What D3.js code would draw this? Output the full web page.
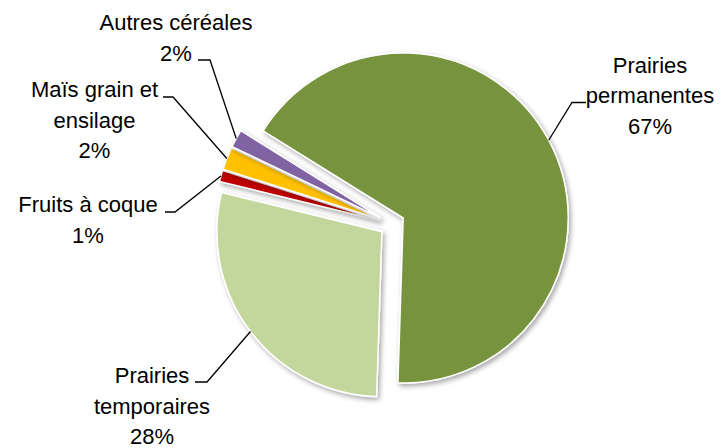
<!DOCTYPE html>
<html>
<head>
<meta charset="utf-8">
<script src="https://cdn.jsdelivr.net/npm/d3@7"></script>
<style>
  body { margin: 0; background: #fff; }
  text { font-family: "Liberation Sans", Arial, sans-serif; font-size: 22px; fill: #000; }
</style>
</head>
<body>
<div id="chart"></div>
<script>
const width = 728;
const height = 448;

// data (share of area, %)
const categories = ["Prairies permanentes", "Prairies temporaires", "Fruits à coque", "Maïs grain et ensilage", "Autres céréales"];
const values = [66.65, 28.3, 1.1, 2.2, 1.75];
const colors = ["#77933C", "#C3D69B", "#C00000", "#FFC000", "#8064A2"];
const labelLines = [["Prairies", "permanentes"], ["Prairies", "temporaires"], ["Fruits à coque"], ["Maïs grain et", "ensilage"], ["Autres céréales"]];

// label layout: text centre x, first baseline y, leader start (x,y), elbow x
const labelPos = [
    {x: 650, y: 72.5, lx: 586, ly: 102.5, ex: 572},
    {x: 152, y: 383, lx: 195, ly: 382, ex: 207},
    {x: 88, y: 212, lx: 165, ly: 212, ex: 175},
    {x: 94.5, y: 97, lx: 163, ly: 97, ex: 173},
    {x: 176, y: 30, lx: 198, ly: 60, ex: 210}
];

const cx = 392, cy = 224;
const radius = 165;
const explode = 12.7;
const lineH = 30.5;
const startDeg = 301.9;

const total = d3.sum(values);
const data = categories.map((c, i) => ({name: c, value: values[i], color: colors[i], lines: labelLines[i], pos: labelPos[i]}));

const pie = d3.pie()
    .value(d => d.value)
    .sort(null)
    .startAngle(startDeg * Math.PI / 180)
    .endAngle(startDeg * Math.PI / 180 + 2 * Math.PI);

const arc = d3.arc().innerRadius(0).outerRadius(radius);

const svg = d3.select('#chart').append('svg')
    .attr('width', width)
    .attr('height', height);

const defs = svg.append('defs');
const f = defs.append('filter').attr('id', 'shadow')
    .attr('x', '-20%').attr('y', '-20%').attr('width', '140%').attr('height', '140%');
f.append('feDropShadow')
    .attr('dx', 2).attr('dy', 2.5)
    .attr('stdDeviation', 2.5)
    .attr('flood-color', '#000')
    .attr('flood-opacity', 0.35);

const arcs = pie(data);

function offset(d){
    const a = (d.startAngle + d.endAngle) / 2;
    return [explode * Math.sin(a), -explode * Math.cos(a)];
}

const g = svg.append('g').attr('transform', `translate(${cx},${cy})`);

g.selectAll('path.slice')
    .data(arcs)
    .join('path')
    .attr('class', 'slice')
    .attr('transform', d => `translate(${offset(d)})`)
    .attr('d', arc)
    .attr('fill', d => d.data.color)
    .attr('stroke', '#fff')
    .attr('stroke-width', 1.5)
    .attr('stroke-linejoin', 'miter')
    .attr('filter', 'url(#shadow)');

// leader lines
g.selectAll('polyline.leader')
    .data(arcs)
    .join('polyline')
    .attr('class', 'leader')
    .attr('points', d => {
        const a = (d.startAngle + d.endAngle) / 2;
        const [ox, oy] = offset(d);
        const px = ox + radius * Math.sin(a);
        const py = oy - radius * Math.cos(a);
        const p = d.data.pos;
        return [[p.lx - cx, p.ly - cy], [p.ex - cx, p.ly - cy], [px, py]].map(q => q.join(',')).join(' ');
    })
    .attr('fill', 'none')
    .attr('stroke', '#000')
    .attr('stroke-width', 1.3);

// labels
const labels = svg.selectAll('text.label')
    .data(arcs)
    .join('text')
    .attr('class', 'label')
    .attr('text-anchor', 'middle');

labels.each(function(d){
    const t = d3.select(this);
    const p = d.data.pos;
    const lines = d.data.lines.concat([Math.round(d.data.value / total * 100) + '%']);
    lines.forEach((s, i) => {
        t.append('tspan')
            .attr('x', p.x)
            .attr('y', p.y + i * lineH)
            .text(s);
    });
});
</script>
</body>
</html>
